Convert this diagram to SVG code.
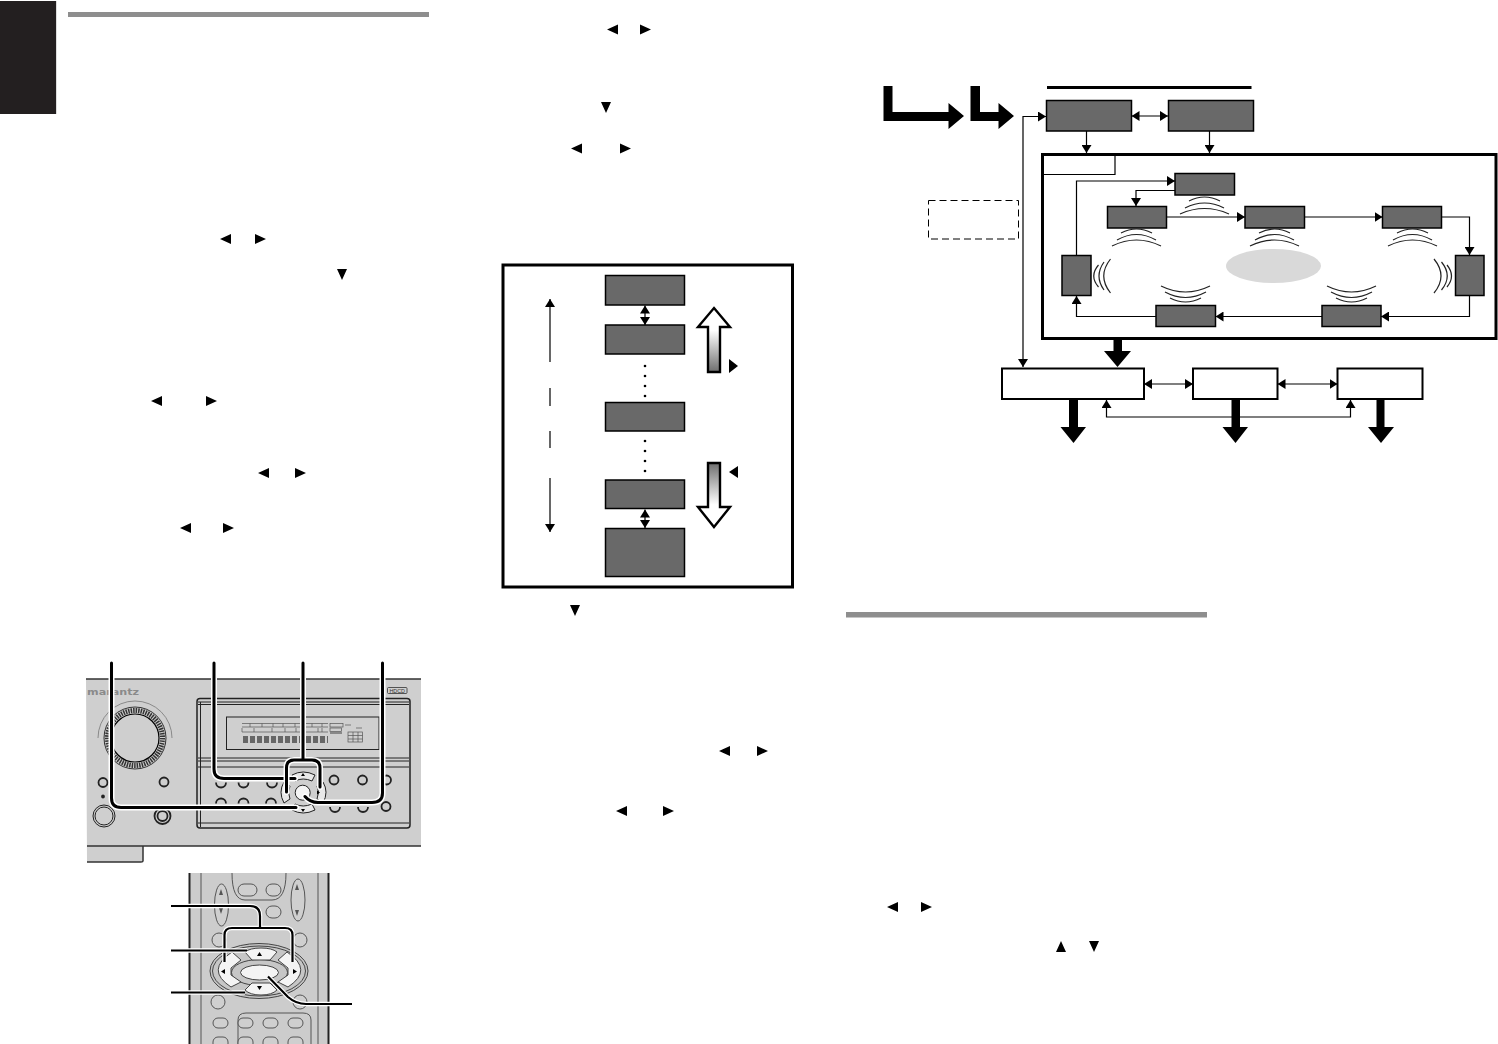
<svg xmlns="http://www.w3.org/2000/svg" width="1498" height="1044" viewBox="0 0 1498 1044">
<defs>
<marker id="ah" viewBox="0 0 8 10" refX="8" refY="5" markerWidth="8" markerHeight="10" markerUnits="userSpaceOnUse" orient="auto-start-reverse"><path d="M0 0L8 5L0 10Z" fill="#000"/></marker>
<linearGradient id="gu" x1="0" y1="0" x2="0" y2="1"><stop offset="0.35" stop-color="#fff"/><stop offset="1" stop-color="#6e6e6e"/></linearGradient>
<linearGradient id="gd" x1="0" y1="1" x2="0" y2="0"><stop offset="0.35" stop-color="#fff"/><stop offset="1" stop-color="#6e6e6e"/></linearGradient>
</defs>
<style>
.d{fill:#696969;stroke:#000;stroke-width:1.5}
.w{fill:#fff;stroke:#000;stroke-width:2}
.c{fill:none;stroke:#000;stroke-width:1.2}
.a{marker-end:url(#ah)}
.b{marker-start:url(#ah);marker-end:url(#ah)}
.wv{fill:none;stroke:#222;stroke-width:1.200}
.k{fill:#000}
.o{fill:none;stroke:#222;stroke-width:1}
.h{fill:none;stroke:#fff;stroke-width:6;stroke-linecap:round;stroke-linejoin:round}
.l{fill:none;stroke:#000;stroke-width:3;stroke-linecap:round;stroke-linejoin:round}
.h2{fill:none;stroke:#fff;stroke-width:4.500;stroke-linejoin:round}
.l2{fill:none;stroke:#000;stroke-width:2.200;stroke-linejoin:round}
.bar{fill:#8e8e8e}
.rk{fill:#f4f4f4;stroke:#444;stroke-width:1}
</style>

<g id="page-furniture">
<rect x="0" y="1" width="56" height="113" fill="#231f20"/>
<rect x="56" y="1" width="1" height="113" fill="#ddd"/>
<rect class="bar" x="68" y="12" width="361" height="5"/>
<rect class="bar" x="846" y="612" width="361" height="5.500"/>
</g>

<g id="glyphs" class="k">
<path d="M220 239l11-5v10zM266 239l-11-5v10zM337 269h10l-5 11zM151 401l11-5v10zM217 401l-11-5v10zM258 473l11-5v10zM306 473l-11-5v10zM180 528l11-5v10zM234 528l-11-5v10z"/>
<path d="M607 29.500l11-5v10zM651 29.500l-11-5v10zM601 102h10l-5 11zM571 148.500l11-5v10zM631 148.500l-11-5v10zM570 605h10l-5 11zM719 751l11-5v10zM768 751l-11-5v10zM616 811l11-5v10zM674 811l-11-5v10z"/>
<path d="M887 907l11-5v10zM932 907l-11-5v10zM1056 952h10l-5-11zM1089 941h10l-5 11z"/>
</g>

<g id="flow-diagram">
<rect id="top-rule" x="1047" y="86" width="204.500" height="3" fill="#000"/>
<g id="entry-arrows" class="k">
<path d="M883.500 86h9v26h56v-9l15.500 13-15.500 13v-8h-65z"/>
<path d="M970.500 86h9.500v26h18.500v-9l15.500 13-15.500 13v-8h-28z"/>
</g>
<g id="box-t1"><rect class="d" x="1046.500" y="100.500" width="85" height="30.500"/></g>
<g id="box-t2"><rect class="d" x="1168.500" y="100.500" width="85" height="30.500"/></g>
<g id="dashed-note"><rect x="928.500" y="200.500" width="90" height="38.500" fill="#fff" stroke="#000" stroke-width="1" stroke-dasharray="7 4"/></g>
<g id="ring-frame">
<rect x="1042.500" y="154.500" width="453.500" height="184" fill="#fff" stroke="#000" stroke-width="3"/>
<path class="c" d="M1043 174.500H1115V155"/>
<ellipse cx="1273.500" cy="266" rx="47.500" ry="17" fill="#d9d9d9"/>
</g>
<g id="box-r1"><rect class="d" x="1175" y="173.500" width="59.500" height="21.500"/></g>
<g id="box-r2"><rect class="d" x="1107.500" y="206.500" width="59" height="21.500"/></g>
<g id="box-r3"><rect class="d" x="1245" y="206.500" width="59.500" height="21.500"/></g>
<g id="box-r4"><rect class="d" x="1382.500" y="206.500" width="59" height="21.500"/></g>
<g id="box-r5"><rect class="d" x="1062" y="255.500" width="29" height="40"/></g>
<g id="box-r6"><rect class="d" x="1455.500" y="255.500" width="28.500" height="40"/></g>
<g id="box-r7"><rect class="d" x="1156" y="305.500" width="59.500" height="21"/></g>
<g id="box-r8"><rect class="d" x="1322" y="305.500" width="59" height="21"/></g>
<g id="box-b1"><rect class="w" x="1002" y="368.500" width="142" height="30.500"/></g>
<g id="box-b2"><rect class="w" x="1193" y="368.500" width="84.500" height="30.500"/></g>
<g id="box-b3"><rect class="w" x="1337.500" y="368.500" width="85" height="30.500"/></g>
<g id="waves" class="wv">
<path d="M1189 201Q1204.500 193 1220 201M1185 208Q1204.500 198 1224 208M1180 214Q1204.500 203 1229 214"/>
<path d="M1121 233Q1136.500 225 1152 233M1117 240Q1136.500 229 1156 240M1112 246Q1136.500 234 1161 246"/>
<path d="M1259 233Q1274.500 225 1290 233M1255 240Q1274.500 229 1294 240M1250 246Q1274.500 234 1299 246"/>
<path d="M1397 233Q1412.500 225 1428 233M1393 240Q1412.500 229 1432 240M1388 246Q1412.500 234 1437 246"/>
<path d="M1161 286Q1185.500 298 1210 286M1165 292Q1185.500 303 1206 292M1170 298Q1185.500 306 1201 298"/>
<path d="M1327 286Q1351.500 298 1376 286M1331 292Q1351.500 303 1372 292M1336 298Q1351.500 306 1367 298"/>
<path d="M1110.500 259Q1097 276 1110.500 293M1104 262Q1094 276 1104 290M1098.500 265Q1089 276 1098.500 287"/>
<path d="M1434 259Q1448 276 1434 293M1441.500 262Q1453 276 1441.500 290M1447 265Q1456 276 1447 287"/>
</g>
</g>

<g id="connectors">
<g id="flow-connectors">
<path class="c b" d="M1046 116.500H1023V367"/>
<path class="c b" d="M1131.500 116H1168"/>
<path class="c a" d="M1086.500 131V153"/>
<path class="c a" d="M1209.500 131V153"/>
<path class="c a" d="M1076.500 255V181H1175"/>
<path class="c a" d="M1175 190.500H1136V206"/>
<path class="c a" d="M1166.500 217H1245"/>
<path class="c a" d="M1304.500 217H1382.500"/>
<path class="c a" d="M1441.500 217H1469.500V255"/>
<path class="c a" d="M1469.500 296V316.500H1381"/>
<path class="c a" d="M1322 316.500H1215.500"/>
<path class="c a" d="M1156 316.500H1076.500V296"/>
<path class="c b" d="M1144 384H1193"/>
<path class="c b" d="M1277.500 384H1337.500"/>
<path class="c b" d="M1106.500 400V417H1350.500V400"/>
<g class="k">
<path d="M1113.500 339h8.500v12h9l-13.500 16-13.500-16h9.500z"/>
<path d="M1069 399h9v28h8l-12.500 16-13-16h8.500z"/>
<path d="M1231.500 399h8.500v28h8l-12.500 16-13-16h9z"/>
<path d="M1376.500 399h8v28h9.500l-13 16-13-16h8.500z"/>
</g>
</g>
<g id="ladder-connectors">
<path class="c b" d="M645 305.500V325"/>
<path class="c b" d="M645 509.500V528"/>
<path class="c a" d="M550 362V299"/>
<path class="c" d="M550 388V406M550 431V448"/>
<path class="c a" d="M550 478V532"/>
</g>
</g>

<g id="ladder-diagram">
<rect x="503" y="265" width="289.500" height="322" fill="none" stroke="#000" stroke-width="3"/>
<g id="lad-1"><rect class="d" x="605.500" y="275.500" width="79" height="29.500"/></g>
<g id="lad-2"><rect class="d" x="605.500" y="325" width="79" height="29" stroke-width="2"/></g>
<g id="lad-3"><rect class="d" x="605.500" y="402.500" width="79" height="28.500"/></g>
<g id="lad-4"><rect class="d" x="605.500" y="480" width="79" height="28.500" stroke-width="2"/></g>
<g id="lad-5"><rect class="d" x="605.500" y="528.500" width="79" height="48"/></g>
<g id="dots" class="k">
<circle cx="645" cy="366" r="1.300"/><circle cx="645" cy="376" r="1.300"/><circle cx="645" cy="386" r="1.300"/><circle cx="645" cy="396" r="1.300"/>
<circle cx="645" cy="441" r="1.300"/><circle cx="645" cy="451" r="1.300"/><circle cx="645" cy="461" r="1.300"/><circle cx="645" cy="471" r="1.300"/>
</g>
<g id="hollow-up"><path d="M714 308L730 327H720V372H708V327H698Z" fill="url(#gu)" stroke="#000" stroke-width="2.400"/><path class="k" d="M729 359l9 7-9 7z"/></g>
<g id="hollow-down"><path d="M714 527L730 507H720V463H708V507H698Z" fill="url(#gd)" stroke="#000" stroke-width="2.400"/><path class="k" d="M738 466l-9 6 9 6z"/></g>
</g>

<g id="front-panel">
<path d="M86 679H421V846H143V862H87Z" fill="#cfcfcf"/>
<path d="M86 679H421M87 846H421M143 846V861Q143 862 141 862H87" fill="none" stroke="#333" stroke-width="1.500"/>
<text x="87" y="695" font-family="DejaVu Sans, sans-serif" font-weight="700" font-size="9.500" textLength="52" lengthAdjust="spacingAndGlyphs" fill="#8a8a8a">marantz</text>
<rect x="387.500" y="687.500" width="19.500" height="6" rx="1" fill="none" stroke="#333" stroke-width="0.800"/>
<text x="389.500" y="692.500" font-family="Liberation Sans, sans-serif" font-size="5" textLength="15.500" lengthAdjust="spacingAndGlyphs" fill="#333">HDCD</text>
<rect x="197" y="698.500" width="213" height="129.500" rx="3" fill="none" stroke="#222" stroke-width="1.500"/>
<path class="o" d="M198 702H409M198 704.500H409M198 758H409M198 761H409M198 767H409M198 823H409M200.500 702V827"/>
<rect x="226.500" y="717" width="152.500" height="32.500" class="o"/>
<g id="display" fill="none" stroke="#555" stroke-width="0.700">
<path d="M242 723.500H328M242 727H328M242 732H328M250 723.500V727M262 723.500V727M273 723.500V727M283 723.500V727M295 723.500V727M312 723.500V727M322 723.500V727"/>
<path d="M242 728V732M254 728V732M272 728V732M285 728V732M296 728V732M318 728V732M322 728V732"/>
<path d="M243 739.500h85" stroke="#666" stroke-width="7" stroke-dasharray="5 2"/>
<rect x="330" y="723.500" width="13" height="3.500"/>
<rect x="330" y="728" width="11.500" height="3.500"/>
<path d="M330 733h12" stroke="#888" stroke-width="2"/>
<rect x="348" y="732" width="14.500" height="10"/>
<path d="M353 732V742M358 732V742M348 735.500H362.500M348 739H362.500M345 725h6M356 728h6"/>
</g>
<g id="knob">
<path d="M98 738A37 37 0 0 1 172 738" fill="none" stroke="#777" stroke-width="0.800"/>
<circle cx="135" cy="738" r="31" fill="none" stroke="#333" stroke-width="1"/>
<circle cx="135" cy="738" r="27.500" fill="none" stroke="#333" stroke-width="5" stroke-dasharray="1.500 1"/>
<circle cx="135" cy="738" r="24" fill="#cfcfcf" stroke="#000" stroke-width="1.200"/>
</g>
<g id="panel-buttons" fill="#cfcfcf" stroke="#222" stroke-width="1.800">
<circle cx="103" cy="782.500" r="4.500"/>
<circle cx="164" cy="782" r="4.500"/>
<circle cx="103" cy="796.500" r="1" fill="#222"/>
<circle cx="104" cy="816" r="11" stroke-width="1"/><circle cx="104" cy="816" r="9" stroke-width="1"/>
<circle cx="162.500" cy="816" r="8"/><circle cx="162.500" cy="816" r="5"/>
<circle cx="334" cy="780" r="4.500"/><circle cx="362.500" cy="780" r="4.500"/><circle cx="386.500" cy="780" r="4.500"/>
<circle cx="386" cy="806.500" r="4.500"/>
<path fill="none" d="M216 782.500A5 5 0 0 0 226 782.500M238.500 782.500A5 5 0 0 0 248.500 782.500M267 782.500A5 5 0 0 0 277 782.500"/>
<path fill="none" d="M216 803.500A5 5 0 0 1 226 803.500M238.500 803.500A5 5 0 0 1 248.500 803.500M266 803.500A5 5 0 0 1 276 803.500"/>
<path fill="none" d="M330 807A5 5 0 0 0 340 807M358 807A5 5 0 0 0 368 807"/>
</g>
<g id="cursor-cluster">
<path d="M292 775Q303 769 315 775L312 781Q303 777 295 781Z" fill="#e8e8e8" stroke="#222"/>
<path d="M292 810Q303 816 315 810L312 804Q303 808 295 804Z" fill="#e8e8e8" stroke="#222"/>
<path d="M284 782Q278 792 284 803L290 799Q287 792 290 786Z" fill="#e8e8e8" stroke="#222"/>
<path d="M323 782Q329 792 323 803L317 799Q320 792 317 786Z" fill="#e8e8e8" stroke="#222"/>
<circle cx="302.700" cy="792.700" r="7.500" fill="#f4f4f4" stroke="#222"/>
<path class="k" d="M303 773l2 3h-4zM303 812l2-3h-4zM286 792.500l3-2v4zM320 792.500l-3-2v4z"/>
</g>
</g>
<g id="front-callouts">
<path class="h" d="M111.500 663V798Q111.500 807.500 121 807.500H296"/><path class="l" d="M111.500 663V798Q111.500 807.500 121 807.500H296"/>
<path class="h" d="M214 663V769Q214 778.500 224 778.500H295"/><path class="l" d="M214 663V769Q214 778.500 224 778.500H295"/>
<path class="h" d="M286.500 792V768Q286.500 760 294 760H312Q320 760 320 768V787M303 663V760"/><path class="l" d="M286.500 792V768Q286.500 760 294 760H312Q320 760 320 768V787M303 663V760"/>
<path class="h" d="M382.500 663V793Q382.500 802.500 372 802.500H318Q310 802.500 305 796.500"/><path class="l" d="M382.500 663V793Q382.500 802.500 372 802.500H318Q310 802.500 305 796.500"/>
</g>

<g id="remote">
<path d="M189 873H329V1044H189Z" fill="#cccccc"/>
<path d="M189.500 873V1044M328.500 873V1044" stroke="#222" stroke-width="2"/>
<path d="M201 873V1044M318 873V1044" fill="none" stroke="#555"/>
<g fill="#cfcfcf" stroke="#555" stroke-width="1">
<ellipse cx="221.500" cy="905" rx="7" ry="21"/><ellipse cx="298" cy="900" rx="7" ry="21"/>
<rect x="238" y="884" width="19" height="12" rx="6"/><rect x="266" y="884" width="15" height="12" rx="6"/><rect x="266" y="906" width="15" height="12" rx="6"/>
<circle cx="219" cy="940" r="7"/><circle cx="300" cy="940" r="7"/><circle cx="218" cy="1002" r="7"/><circle cx="300" cy="1002" r="7"/>
<path d="M232 873Q232 900 245 900H272Q286 900 286 873" fill="none"/>
<path d="M238 1044V1020Q238 1013 246 1013H303Q311 1013 311 1020V1044" fill="none"/>
<rect x="213" y="1018" width="15" height="10" rx="5"/><rect x="238" y="1018" width="15" height="10" rx="5"/><rect x="263" y="1018" width="15" height="10" rx="5"/><rect x="288" y="1018" width="15" height="10" rx="5"/>
<rect x="213" y="1037" width="15" height="12" rx="5"/><rect x="238" y="1037" width="15" height="12" rx="5"/><rect x="263" y="1037" width="15" height="12" rx="5"/><rect x="288" y="1037" width="15" height="12" rx="5"/>
</g>
<g id="remote-cluster">
<ellipse cx="259" cy="971" rx="49" ry="27.500" fill="#c6c6c6" stroke="#444"/>
<ellipse cx="259" cy="971" rx="46.500" ry="25" fill="#c6c6c6" stroke="#444"/>
<ellipse cx="259.500" cy="972.500" rx="28" ry="13" fill="#c6c6c6" stroke="#444"/>
<path class="rk" d="M245 952Q250 948 261 948Q272 948 277 952L270 960H252Z"/>
<path class="rk" d="M252 983H270L277 990Q272 995 261 995Q250 995 245 990Z"/>
<path class="rk" d="M232 952L241 960L231 968V975L241 982L231 987Q205 970 232 952Z"/>
<path class="rk" d="M287 952L278 960L288 968V975L278 982L288 987Q314 970 287 952Z"/>
<ellipse cx="259.500" cy="972.500" rx="19" ry="7.500" class="rk"/>
</g>
<path class="k" d="M259.500 952l2.500 4h-5zM259.500 990l2.500-4h-5zM221 971.500l4-2.500v5zM297 971.500l-4-2.500v5z"/>
<path d="M221 889l2 6h-4zM297 884l2 6h-4zM221 914l2-6h-4zM297 916l2-6h-4z" fill="#555"/>
</g>
<g id="remote-callouts">
<path class="h2" d="M171 906H250Q260 906 260 916V927M224.500 962V935Q224.500 928 232 928H285Q292.500 928 292.500 935V962"/><path class="l2" d="M171 906H250Q260 906 260 916V927M224.500 962V935Q224.500 928 232 928H285Q292.500 928 292.500 935V962"/>
<path class="h2" d="M171 950.500H247"/><path class="l2" d="M171 950.500H247"/>
<path class="h2" d="M171 992.500H245"/><path class="l2" d="M171 992.500H245"/>
<path class="h2" d="M268 976.500L288 997Q296 1004 306 1004H352"/><path class="l2" d="M268 976.500L288 997Q296 1004 306 1004H352"/>
</g>
</svg>
